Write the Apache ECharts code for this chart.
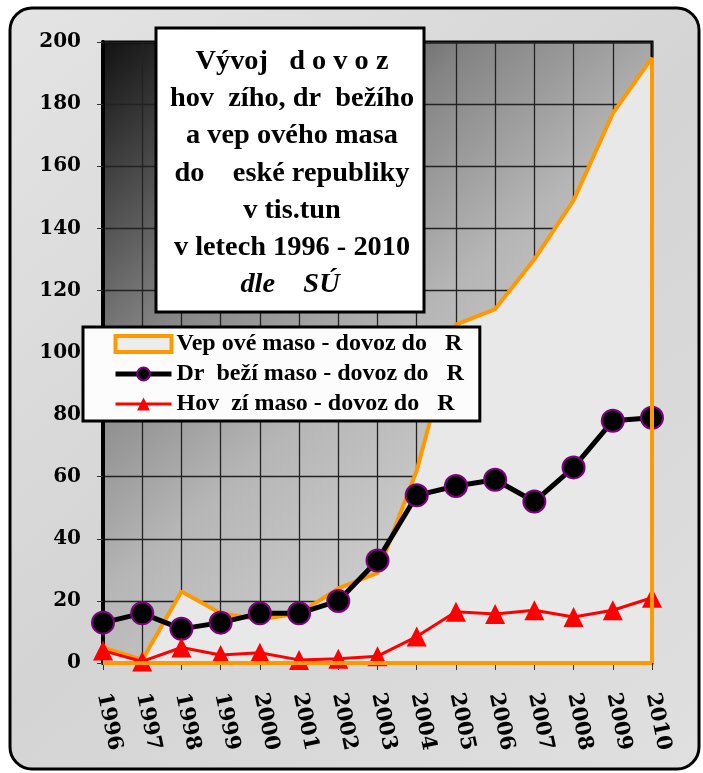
<!DOCTYPE html>
<html>
<head>
<meta charset="utf-8">
<script src="https://cdn.jsdelivr.net/npm/echarts@6/dist/echarts.min.js"></script>
<style>html,body{margin:0;padding:0;background:#fff}#c{width:703px;height:773px}</style>
</head>
<body>
<div id="c"></div>
<script>
// ---- data ----
var years = ['1996','1997','1998','1999','2000','2001','2002','2003','2004','2005','2006','2007','2008','2009','2010'];
var vepr = [5, 1, 23, 16, 14, 16, 24, 29, 62, 109, 114, 130, 149, 177, 195];
var drub = [13, 16, 11, 13, 16, 16, 20, 33, 54, 57, 59, 52, 63, 78, 79];
var hov  = [4, 0.5, 5, 2.6, 3.3, 1, 1.4, 2.2, 8.5, 16.5, 15.8, 17, 14.8, 17, 21];
var yTicks = [0, 200, 20];
var seriesNames = ['Vep ové maso - dovoz do   R', 'Dr  beží maso - dovoz do   R', 'Hov  zí maso - dovoz do   R'];
var titleLines = ['Vývoj   d o v o z', 'hov  zího, dr  bežího', 'a vep ového masa', 'do    eské republiky', 'v tis.tun', 'v letech 1996 - 2010'];
var titleItalic = 'dle    SÚ';

var chart = echarts.init(document.getElementById('c'));
var last = years.length - 1;

var graphics = [{
  type: 'rect', z: -100, silent: true,
  shape: {x: 10, y: 8, width: 689, height: 761, r: 22},
  style: {fill: {type: 'linear', x: 0, y: 0, x2: 1, y2: 1, colorStops: [
    {offset: 0, color: '#e4e4e4'}, {offset: 0.5, color: '#d4d4d4'}, {offset: 1, color: '#e0e0e0'}]},
    stroke: '#000', lineWidth: 3}
}, {
  type: 'rect', z: 100, silent: true,
  shape: {x: 156, y: 28, width: 268, height: 284},
  style: {fill: '#fff', stroke: '#000', lineWidth: 3}
}];
titleLines.forEach(function (t, i) {
  graphics.push({
    type: 'text', z: 101, silent: true, x: 292, y: 62 + i * 37.2, scaleX: 1.05,
    style: {text: t, fill: '#000', font: 'bold 27px "Liberation Serif"', align: 'center', verticalAlign: 'middle'}
  });
});
graphics.push({
  type: 'text', z: 101, silent: true, x: 290, y: 62 + 6 * 37.2, scaleX: 1.05,
  style: {text: titleItalic, fill: '#000', font: 'italic bold 27px "Liberation Serif"', align: 'center', verticalAlign: 'middle'}
});

var option = {
  backgroundColor: 'transparent',
  animation: false,
  graphic: graphics,
  grid: {
    left: 103, right: 51, top: 42, bottom: 110,
    show: true,
    backgroundColor: {type: 'linear', x: 0, y: 0, x2: 1, y2: 1, colorStops: [
      {offset: 0, color: '#111'}, {offset: 0.3, color: '#848484'}, {offset: 0.5, color: '#b6b6b6'},
      {offset: 0.75, color: '#d0d0d0'}, {offset: 1, color: '#dcdcdc'}]},
    borderColor: '#000', borderWidth: 3
  },
  legend: {
    orient: 'vertical', left: 83, top: 327,
    backgroundColor: '#fcfcfc', borderColor: '#000', borderWidth: 3,
    padding: [5, 16, 5, 30],
    itemWidth: 56, itemHeight: 16, itemGap: 6,
    textStyle: {fontFamily: 'Liberation Serif', fontWeight: 'bold', fontSize: 24, color: '#000', lineHeight: 24},
    z: 50,
    data: [
      {name: seriesNames[0], icon: 'rect', itemStyle: {color: '#ececec', borderColor: '#ff9900', borderWidth: 4}},
      {name: seriesNames[1], lineStyle: {width: 5, color: '#000'}},
      {name: seriesNames[2], lineStyle: {width: 3, color: '#ff0000'}}
    ]
  },
  xAxis: {
    type: 'category', data: years, boundaryGap: false,
    axisLine: {lineStyle: {color: '#111', width: 2}},
    axisTick: {show: true, length: 7, lineStyle: {color: '#333', width: 1}},
    axisLabel: {rotate: -78, margin: 30, color: '#000', fontFamily: 'DejaVu Serif', fontWeight: 'bold', fontSize: 21, interval: 0},
    splitLine: {show: true, lineStyle: {color: '#222', width: 1.3}}
  },
  yAxis: {
    type: 'value', min: yTicks[0], max: yTicks[1], interval: yTicks[2],
    axisLine: {show: true, lineStyle: {color: '#000', width: 4}},
    axisTick: {show: true, length: 6, lineStyle: {color: '#333', width: 1}},
    axisLabel: {margin: 22, color: '#000', fontFamily: 'DejaVu Serif', fontWeight: 'bold', fontSize: 20},
    splitLine: {show: true, lineStyle: {color: '#222', width: 1.3}}
  },
  series: [{
    name: seriesNames[0], type: 'line', data: vepr, symbol: 'none', z: 2,
    lineStyle: {color: '#ff9900', width: 4},
    itemStyle: {color: '#ff9900'},
    areaStyle: {color: '#e8e8e8', opacity: 1},
    markLine: {
      silent: true, symbol: ['none', 'none'], label: {show: false},
      lineStyle: {color: '#ff9900', width: 4, type: 'solid'},
      data: [
        [{coord: [years[0], 0]}, {coord: [years[last], 0]}],
        [{coord: [years[last], 0]}, {coord: [years[last], vepr[last]]}]
      ]
    }
  }, {
    name: seriesNames[1], type: 'line', data: drub, z: 3,
    symbol: 'circle', symbolSize: 22,
    lineStyle: {color: '#000', width: 5},
    itemStyle: {color: '#000', borderColor: '#800080', borderWidth: 2}
  }, {
    name: seriesNames[2], type: 'line', data: hov, z: 4,
    symbol: 'triangle', symbolSize: 20,
    lineStyle: {color: '#ff0000', width: 3},
    itemStyle: {color: '#ff0000'}
  }]
};
chart.setOption(option);
</script>
</body>
</html>
